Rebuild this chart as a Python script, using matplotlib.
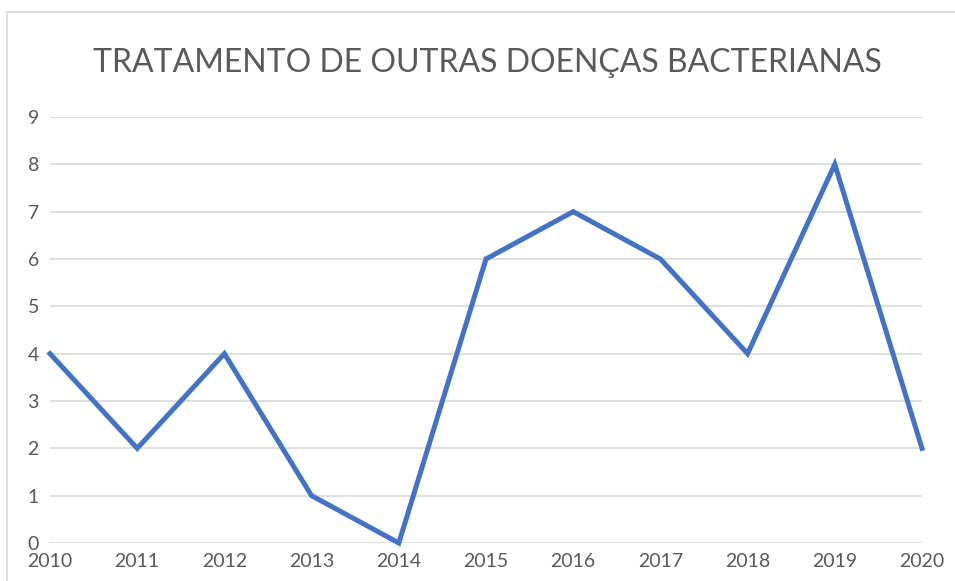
import matplotlib.pyplot as plt
from matplotlib.patches import Rectangle

years = [2010, 2011, 2012, 2013, 2014, 2015, 2016, 2017, 2018, 2019, 2020]
values = [4, 2, 4, 1, 0, 6, 7, 6, 4, 8, 2]
title = "TRATAMENTO DE OUTRAS DOENÇAS BACTERIANAS"

plt.rcParams['font.family'] = ['Lato', 'DejaVu Sans']
text_color = "#595959"
grid_color = "#d9d9d9"

fig = plt.figure(figsize=(9.55, 5.81), dpi=100)
ax = fig.add_axes([50 / 955, 1 - 543 / 581, 872 / 955, (543 - 117) / 581])

ax.plot(years, values, color="#4472C4", lw=3.6, solid_joinstyle="miter", clip_on=False, zorder=3)

ax.set_xlim(2010, 2020)
ax.set_ylim(0, 9)
ax.set_xticks(years)
ax.set_yticks(range(0, 10))
ax.grid(axis="y", color=grid_color, lw=1.2)
ax.set_axisbelow(True)
for s in ax.spines.values():
    s.set_visible(False)
ax.tick_params(length=0, labelsize=14, colors=text_color)
ax.tick_params(axis="y", pad=8)
ax.tick_params(axis="x", pad=7)
for lbl in ax.get_yticklabels():
    lbl.set_verticalalignment("center_baseline")

fig.text(487 / 955, 1 - 63 / 581, title, ha="center", va="center", fontsize=23, color=text_color)

# chart border
fig.patches.append(Rectangle((7 / 955, -0.1), 1.2, 1 - 12 / 581 + 0.1, transform=fig.transFigure,
                             fill=False, edgecolor=grid_color, lw=1.2))

fig.savefig("out.png", dpi=100)
